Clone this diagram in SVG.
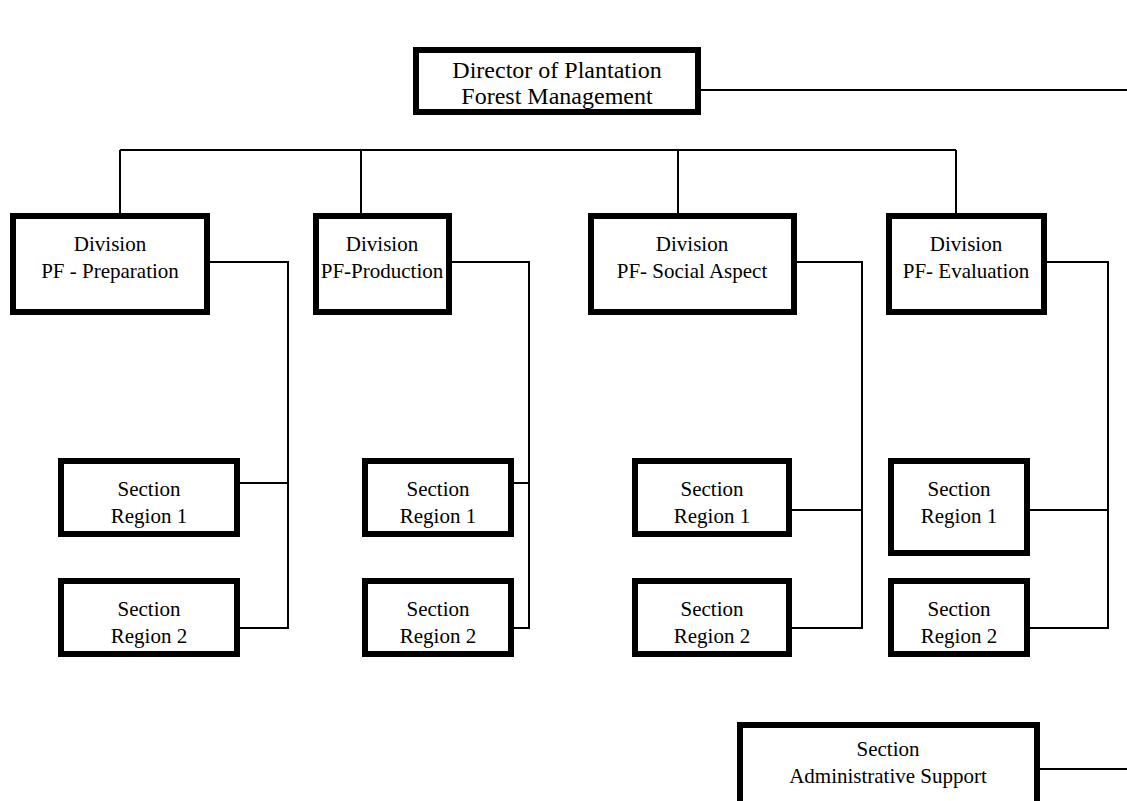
<svg xmlns="http://www.w3.org/2000/svg" width="1127" height="801" viewBox="0 0 1127 801">
<style>
.box{fill:#fff;stroke:#000;stroke-width:6}
.ln{fill:none;stroke:#000;stroke-width:2}
text{font-family:'Liberation Serif','Times New Roman',Times,'DejaVu Serif',serif;fill:#000;text-anchor:middle}
.t24{font-size:24px}
.t21{font-size:21px}
</style>
<rect width="1127" height="801" fill="#fff"/>
<g id="connectors">
<path class="ln" d="M700,90 H1127"/>
<path class="ln" d="M120,150 H956 M120,150 V213 M361,150 V213 M678,150 V213 M956,150 V213"/>
<path class="ln" d="M210,262 H288 V628 H240 M240,483 H288"/>
<path class="ln" d="M452,262 H529 V628 H514 M514,483 H529"/>
<path class="ln" d="M797,262 H862 V628 H792 M792,510 H862"/>
<path class="ln" d="M1047,262 H1108 V628 H1030 M1030,510 H1108"/>
<path class="ln" d="M1040,769 H1127"/>
</g>
<g id="director"><rect class="box" x="416" y="50" width="282" height="62"/><text class="t24" x="557" y="78">Director of Plantation</text><text class="t24" x="557" y="104">Forest Management</text></g>
<g id="div1"><rect class="box" x="13" y="216" width="194" height="96"/><text class="t21" x="110" y="251">Division</text><text class="t21" x="110" y="278">PF - Preparation</text></g>
<g id="div2"><rect class="box" x="316" y="216" width="133" height="96"/><text class="t21" x="382" y="251">Division</text><text class="t21" x="382" y="278">PF-Production</text></g>
<g id="div3"><rect class="box" x="591" y="216" width="203" height="96"/><text class="t21" x="692" y="251">Division</text><text class="t21" x="692" y="278">PF- Social Aspect</text></g>
<g id="div4"><rect class="box" x="889" y="216" width="155" height="96"/><text class="t21" x="966" y="251">Division</text><text class="t21" x="966" y="278">PF- Evaluation</text></g>
<g id="sec1a"><rect class="box" x="61" y="461" width="176" height="73"/><text class="t21" x="149" y="496">Section</text><text class="t21" x="149" y="523">Region 1</text></g>
<g id="sec1b"><rect class="box" x="61" y="581" width="176" height="73"/><text class="t21" x="149" y="616">Section</text><text class="t21" x="149" y="643">Region 2</text></g>
<g id="sec2a"><rect class="box" x="365" y="461" width="146" height="73"/><text class="t21" x="438" y="496">Section</text><text class="t21" x="438" y="523">Region 1</text></g>
<g id="sec2b"><rect class="box" x="365" y="581" width="146" height="73"/><text class="t21" x="438" y="616">Section</text><text class="t21" x="438" y="643">Region 2</text></g>
<g id="sec3a"><rect class="box" x="635" y="461" width="154" height="73"/><text class="t21" x="712" y="496">Section</text><text class="t21" x="712" y="523">Region 1</text></g>
<g id="sec3b"><rect class="box" x="635" y="581" width="154" height="73"/><text class="t21" x="712" y="616">Section</text><text class="t21" x="712" y="643">Region 2</text></g>
<g id="sec4a"><rect class="box" x="891" y="461" width="136" height="92"/><text class="t21" x="959" y="496">Section</text><text class="t21" x="959" y="523">Region 1</text></g>
<g id="sec4b"><rect class="box" x="891" y="581" width="136" height="73"/><text class="t21" x="959" y="616">Section</text><text class="t21" x="959" y="643">Region 2</text></g>
<g id="admin"><rect class="box" x="740" y="725" width="297" height="90"/><text class="t21" x="888" y="756">Section</text><text class="t21" x="888" y="783">Administrative Support</text></g>
</svg>
